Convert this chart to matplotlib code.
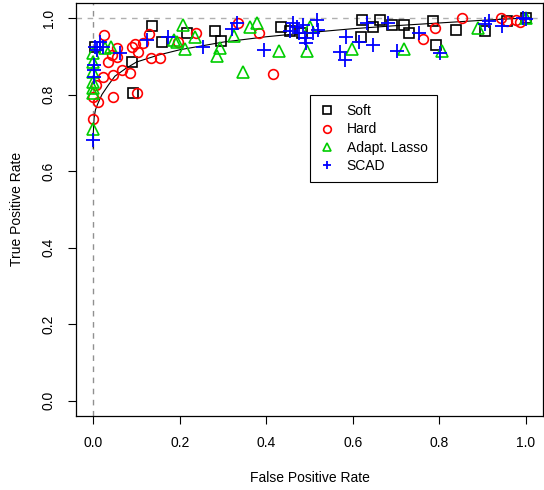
import matplotlib
matplotlib.use('Agg')
from matplotlib import pyplot as plt

plt.rcParams['font.family'] = ['Liberation Sans', 'DejaVu Sans']

### data ###

soft_fpr = [0.005, 0.090, 0.092, 0.136, 0.159, 0.217, 0.282, 0.296, 0.434, 0.455, 0.483, 0.619,
            0.621, 0.647, 0.663, 0.691, 0.718, 0.730, 0.785, 0.792, 0.838, 0.905, 0.958, 1.0]
soft_tpr = [0.924, 0.885, 0.804, 0.979, 0.937, 0.961, 0.966, 0.940, 0.977, 0.966, 0.961, 0.950,
            0.995, 0.977, 0.995, 0.982, 0.982, 0.961, 0.992, 0.930, 0.969, 0.966, 0.992, 1.0]

hard_fpr = [0.025, 0.129, 0.115, 0.097, 0.104, 0.090, 0.055, 0.055, 0.035, 0.044, 0.067, 0.085,
            0.046, 0.023, 0.134, 0.155, 0.102, 0.046, 0.012, 0.0, 0.0, 0.196, 0.238, 0.335,
            0.383, 0.416, 0.762, 0.790, 0.852, 0.942, 0.956, 0.977, 0.986, 0.007]
hard_tpr = [0.956, 0.958, 0.935, 0.932, 0.911, 0.924, 0.922, 0.898, 0.885, 0.903, 0.864, 0.856,
            0.851, 0.846, 0.896, 0.896, 0.804, 0.794, 0.781, 0.794, 0.736, 0.937, 0.961, 0.987,
            0.961, 0.854, 0.945, 0.974, 1.0, 1.0, 0.992, 0.995, 0.990, 0.825]

alasso_fpr = [0.208, 0.236, 0.194, 0.187, 0.212, 0.286, 0.293, 0.326, 0.346, 0.363, 0.379, 0.430,
              0.494, 0.501, 0.598, 0.718, 0.806, 0.891, 1.0, 0.042, 0.028, 0.0, 0.0, 0.0,
              0.0, 0.0, 0.0, 0.0]
alasso_tpr = [0.982, 0.950, 0.937, 0.943, 0.919, 0.901, 0.922, 0.953, 0.859, 0.977, 0.987, 0.914,
              0.914, 0.977, 0.919, 0.919, 0.914, 0.974, 1.0, 0.924, 0.922, 0.909, 0.885, 0.859,
              0.833, 0.817, 0.804, 0.710]

scad_fpr = [0.016, 0.023, 0.005, 0.009, 0.002, 0.002, 0.002, 0.0, 0.062, 0.125, 0.173, 0.254,
            0.321, 0.333, 0.395, 0.462, 0.471, 0.485, 0.517, 0.476, 0.455, 0.490, 0.492, 0.508,
            0.520, 0.584, 0.570, 0.582, 0.633, 0.614, 0.647, 0.681, 0.702, 0.753, 0.801, 0.905,
            0.915, 0.945, 0.993, 1.0]
scad_tpr = [0.937, 0.924, 0.924, 0.916, 0.877, 0.864, 0.846, 0.681, 0.909, 0.943, 0.950, 0.924,
            0.971, 0.987, 0.916, 0.987, 0.977, 0.982, 0.995, 0.961, 0.966, 0.948, 0.935, 0.961,
            0.969, 0.950, 0.911, 0.890, 0.987, 0.937, 0.930, 0.987, 0.914, 0.961, 0.909, 0.984,
            0.992, 0.979, 1.0, 0.997]

# fitted curve
curve_fpr = [0, 0, 0.002, 0.005, 0.01, 0.02, 0.035, 0.05, 0.075, 0.1, 0.15, 0.2, 0.3, 0.4,
             0.5, 0.6, 0.7, 0.8, 0.9, 1.0]
curve_tpr = [0.66, 0.70, 0.74, 0.76, 0.775, 0.80, 0.825, 0.848, 0.868, 0.885, 0.903, 0.917,
             0.937, 0.951, 0.962, 0.972, 0.980, 0.987, 0.994, 1.0]

ticks = [0.0, 0.2, 0.4, 0.6, 0.8, 1.0]

### graph ###
fig = plt.figure(figsize=(5.44, 4.9), dpi=100)
ax = fig.add_axes([0.1397, 0.151, 0.8583, 0.8435])

ax.axhline(1, color='#b0b0b0', ls=(0, (4, 4)), lw=1, zorder=1)
ax.axvline(0, color='#909090', ls=(0, (4, 4)), lw=1, zorder=1)
ax.plot(curve_fpr, curve_tpr, color='black', lw=0.8, zorder=2)

ax.plot(soft_fpr, soft_tpr, 's', ms=6.5, mfc='none', mec='black', mew=1.2, ls='none', label='Soft', zorder=3)
ax.plot(hard_fpr, hard_tpr, 'o', ms=7, mfc='none', mec='#ff0000', mew=1.2, ls='none', label='Hard', zorder=3)
ax.plot(alasso_fpr, alasso_tpr, '^', ms=8, mfc='none', mec='#00cd00', mew=1.2, ls='none',
        label='Adapt. Lasso', zorder=3)
ax.plot(scad_fpr, scad_tpr, '+', ms=9.5, mec='#0000ff', mew=1.3, ls='none', label='SCAD', zorder=3)

ax.set_xlim(-0.04, 1.04)
ax.set_ylim(-0.04, 1.04)
ax.set_xticks(ticks)
ax.set_yticks(ticks)
ax.set_xticklabels(['%.1f' % t for t in ticks], fontsize=10)
ax.set_yticklabels(['%.1f' % t for t in ticks], fontsize=10, rotation=90, va='center')
ax.tick_params(direction='out', length=5.5, width=0.8, pad=9)
for s in ax.spines.values():
    s.set_linewidth(0.9)

ax.set_xlabel('False Positive Rate', fontsize=10, labelpad=15)
ax.set_ylabel('True Positive Rate', fontsize=10, labelpad=13)

leg = ax.legend(loc='upper left', bbox_to_anchor=(0.501, 0.776), fontsize=10, fancybox=False,
                edgecolor='black', framealpha=1, handlelength=1.1, handletextpad=0.9,
                borderpad=0.65, labelspacing=0.3, borderaxespad=0)
leg.get_frame().set_linewidth(0.8)
for h in leg.legend_handles:
    h.set_markersize(5.5)

plt.savefig('out.png', dpi=100)
